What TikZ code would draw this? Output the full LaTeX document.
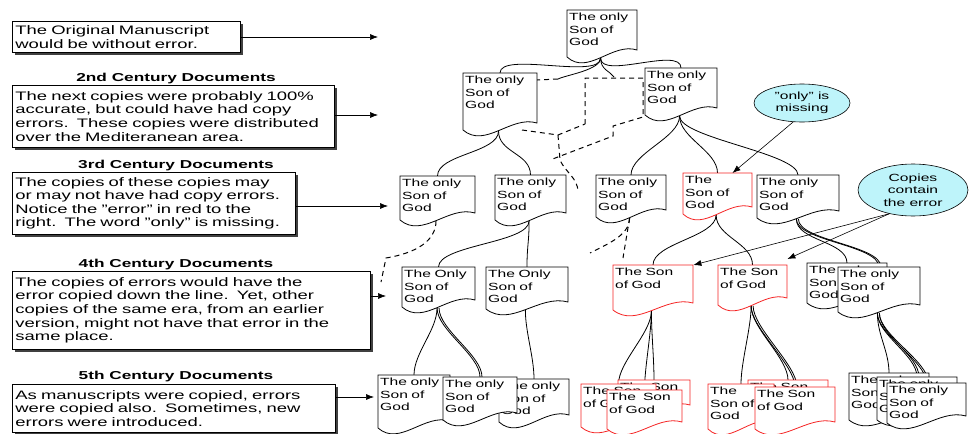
\documentclass[tikz,border=0pt]{standalone}
\usepackage{fontspec}
\setmainfont{Liberation Sans}[FakeStretch=1.5]
\usetikzlibrary{arrows.meta,shadows,shapes.geometric,backgrounds}

\definecolor{copyred}{RGB}{245,35,35}
\definecolor{calloutcyan}{RGB}{190,244,250}

\tikzset{
  note/.style={draw, fill=white, line width=0.8pt, anchor=north west,
    align=left, inner xsep=3pt, inner ysep=2pt,
    font=\fontsize{12.3}{13.6}\selectfont,
    drop shadow={shadow xshift=2.2pt, shadow yshift=-2.2pt, fill=black!75, opacity=1}},
  century/.style={font=\bfseries\fontsize{11.5}{13}\selectfont},
  doctext/.style={anchor=north west, align=left, inner xsep=2pt, inner ysep=3pt,
    font=\fontsize{10.4}{12.5}\selectfont},
  wire/.style={line width=0.8pt},
  lost/.style={line width=1pt, dash pattern=on 5pt off 4pt},
  callout/.style={ellipse, draw, fill=calloutcyan, line width=0.6pt, align=center,
    inner sep=0pt, font=\fontsize{10.4}{12.5}\selectfont},
  pointer/.style={-{Latex[length=8pt,width=6pt]}, line width=0.6pt}
}

% one copy of the manuscript: [colour]{name}{x}{y}{width}{depth}{text}
\newcommand{\mscopy}[7][black]{%
  \draw[#1, line width=0.8pt, fill=white]
    (#3,#4+#6-5) -- (#3,#4) -- (#3+#5,#4) -- (#3+#5,#4+#6-12)
    .. controls (#3+0.65*#5,#4+#6-20) and (#3+0.3*#5,#4+#6+14) .. (#3,#4+#6-5) -- cycle;
  \pgfmathsetmacro\copytw{#5-4}
  \node[doctext, text width=\copytw pt] (#2) at (#3,#4) {#7};
  \coordinate (#2-t) at (#3+0.5*#5,#4);
  \coordinate (#2-b) at (#3+0.48*#5,#4+#6-4);
}

\begin{document}
\begin{tikzpicture}[x=1pt, y=-1pt]
    \useasboundingbox (0,0) rectangle (970,434);

    % notes on the left
    \node[note, text width=222pt, minimum height=31pt] (note1) at (12,21)
        {The Original Manuscript\\would be without error.};
    \node[century] (head2) at (176,79) {2nd Century Documents};
    \node[note, text width=316pt, minimum height=62pt] (note2) at (12,85)
        {The next copies were probably 100\%\\accurate, but could have had copy\\errors.\ \ These copies were distributed\\over the Mediteranean area.};
    \node[century] (head3) at (176,166) {3rd Century Documents};
    \node[note, text width=277pt, minimum height=62pt] (note3) at (12,172)
        {The copies of these copies may\\or may not have had copy errors.\\Notice the "error" in red to the\\right.\ \ The word "only" is missing.};
    \node[century] (head4) at (176,265) {4th Century Documents};
    \node[note, text width=352pt, minimum height=78pt] (note4) at (12,271)
        {The copies of errors would have the\\error copied down the line.\ \ Yet, other\\copies of the same era, from an earlier\\version, might not have that error in the\\same place.};
    \node[century] (head5) at (176,377) {5th Century Documents};
    \node[note, text width=317pt, minimum height=48pt] (note5) at (12,384)
        {As manuscripts were copied, errors\\were copied also.\ \ Sometimes, new\\errors were introduced.};

    \coordinate (p1) at (378,37);
    \coordinate (p2) at (378,115);
    \coordinate (p3) at (388,206);
    \coordinate (p4) at (386,296);
    \coordinate (p5) at (374,397);
    \foreach \n in {1,...,5}
        \draw[pointer] (note\n.east |- p\n) -- (p\n);

    % the copies, generation by generation
    \mscopy{T0}{567}{10}{70}{52}{The only\\Son of\\God}

    \mscopy{L2a}{463}{73}{74}{62}{The only\\Son of\\God}
    \mscopy{L2b}{645}{68}{72}{52}{The only\\Son of\\God}

    \mscopy{A}{400}{176}{75}{49}{The only\\Son of\\God}
    \mscopy{B}{495}{175}{71}{50}{The only\\Son of\\God}
    \mscopy{C}{596}{175}{70}{47}{The only\\Son of\\God}
    \mscopy[copyred]{D}{683}{173}{69}{46}{The\\Son of\\God}
    \mscopy{E}{757}{175}{82}{48}{The only\\Son of\\God}

    \mscopy{F}{402}{267}{73}{45}{The Only\\Son of\\God}
    \mscopy{G}{486}{267}{82}{47}{The Only\\Son of\\God}
    \mscopy[copyred]{H}{613}{265}{80}{50}{The Son\\of God}
    \mscopy[copyred]{I}{718}{265}{69}{45}{The Son\\of God}
    \mscopy{J}{807}{263}{80}{45}{The only\\Son of\\God}
    \mscopy{K}{838}{267}{82}{50}{The only\\Son of\\God}

    \mscopy{L}{378}{375}{72}{58}{The only\\Son of\\God}
    \mscopy{N}{499}{379}{70}{48}{The only\\Son of\\God}
    \mscopy{M}{443}{377}{74}{48}{The only\\Son of\\God}
    \mscopy[copyred]{R1b}{618}{380}{72}{37}{The Son\\of God}
    \mscopy[copyred]{R1a}{581}{384}{75}{48}{The Son\\of God}
    \mscopy[copyred]{R1c}{607}{390}{75}{44}{The~ Son\\of God}
    \mscopy[copyred]{R2b}{748}{380}{80}{40}{The Son\\of God}
    \mscopy[copyred]{R2a}{708}{384}{66}{50}{The\\Son of\\God}
    \mscopy[copyred]{R2c}{755}{387}{80}{47}{The Son\\of God}
    \mscopy{B5a}{849}{373}{80}{52}{The only\\Son of\\God}
    \mscopy{B5b}{877}{377}{80}{48}{The only\\Son of\\God}
    \mscopy{B5c}{887}{383}{79}{45}{The only\\Son of\\God}

    % lines of descent
    \begin{scope}[on background layer]
        \foreach \from/\to in {T0/L2a, T0/L2b, L2a/A, L2a/B, L2b/C, L2b/D, L2b/E,
            B/F, B/G, D/H, D/I, E/J, E/K, F/L, F/M, G/N,
            H/R1a, H/R1b, H/R1c, I/R2a, I/R2b, I/R2c, K/B5a, K/B5b, K/B5c}
            \draw[wire] (\from-b) .. controls +(0,22) and +(0,-22) .. (\to-t);
        \foreach \from/\to in {E/K, F/M, I/R2c, K/B5b, K/B5c}
            \draw[wire] ([xshift=2pt]\from-b) .. controls +(0,22) and +(0,-22) .. ([xshift=2pt]\to-t);

        % copies that were lost
        \coordinate (lostA) at (558,79);
        \coordinate (lostB) at (614,77);
        \coordinate (lostC) at (578,192);
        \coordinate (lostD) at (381,282);
        \coordinate (lostE) at (590,253);
        \coordinate (lostF) at (623,258);
        \draw[wire] (T0-b) .. controls +(0,12) and +(8,-4) .. (lostA);
        \draw[wire] (T0-b) .. controls +(0,12) and +(-4,-6) .. (lostB);
        \draw[lost] (lostA) -- (537,80);
        \draw[lost] (585,124) -- (585,78) -- (643,78) -- (643,117) -- (613,126)
            -- (613,136) -- (550,160);
        \draw[lost] (522,130) -- (558,135) -- (585,124);
        \draw[lost] (558,135) -- (560,160) .. controls (565,172) and (578,178) .. (lostC);
        \draw[lost] (A-b) .. controls +(0,20) and +(30,-5) .. (386,258) -- (lostD);
        \draw[lost] (C-b) .. controls +(0,18) and +(15,-8) .. (lostE);
        \draw[lost] (C-b) -- (lostF);
    \end{scope}

    % callouts
    \node[callout, minimum width=96pt, minimum height=38pt] (miss) at (802,103)
        {"only" is\\missing};
    \node[callout, minimum width=110pt, minimum height=52pt] (copies) at (913,190)
        {Copies\\contain\\the error};
    \draw[pointer] (miss.245) -- ([xshift=15pt]D-t);
    \draw[pointer] (copies.225) -- (H.north east);
    \draw[pointer] (copies.225) -- ([yshift=6pt]I.north east);
\end{tikzpicture}
\end{document}
